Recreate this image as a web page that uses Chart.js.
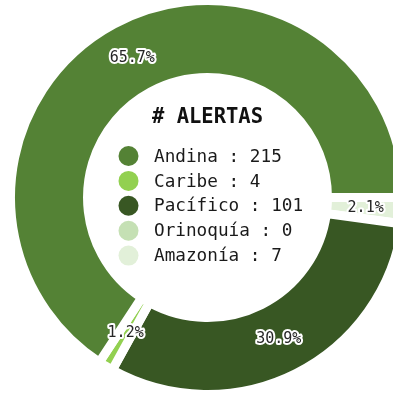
<!DOCTYPE html>
<html>
<head>
<meta charset="utf-8">
<script src="https://cdn.jsdelivr.net/npm/chart.js@4/dist/chart.umd.min.js"></script>
<style>
  html, body { margin: 0; padding: 0; background: #fff; overflow: hidden; width: 393px; height: 393px; }
  #wrap { position: absolute; left: 0; top: 0; width: 415px; height: 395px; }
</style>
</head>
<body>
<div id="wrap"><canvas id="c" width="415" height="395"></canvas></div>
<script>
// Alerts per natural region
const regions = ['Andina', 'Caribe', 'Pacífico', 'Orinoquía', 'Amazonía'];
const alerts = [215, 4, 101, 0, 7];
const regionColors = ['#548235', '#92D050', '#385723', '#C5E0B4', '#E2F0D9'];
const legendTitle = '# ALERTAS';

// Slices run counter-clockwise from 3 o'clock; Chart.js draws clockwise,
// so the series is fed in reverse order starting at 90° rotation.
const order = regions.map((_, i) => i).reverse();

const MONO = '"DejaVu Sans Mono", "Liberation Mono", monospace';

// Percentage labels on each non-empty slice, dark text with a white halo
const pctLabels = {
  id: 'pctLabels',
  afterDatasetsDraw(chart) {
    const ctx = chart.ctx;
    const meta = chart.getDatasetMeta(0);
    const vals = chart.data.datasets[0].data;
    const total = vals.reduce((a, b) => a + b, 0);
    ctx.save();
    ctx.font = '15px ' + MONO;
    ctx.textAlign = 'center';
    ctx.textBaseline = 'middle';
    ctx.lineJoin = 'round';
    meta.data.forEach((arc, i) => {
      if (!vals[i]) return;
      const p = arc.getCenterPoint();
      const txt = (vals[i] / total * 100).toFixed(1) + '%';
      ctx.lineWidth = 4;
      ctx.strokeStyle = '#ffffff';
      ctx.strokeText(txt, p.x, p.y);
      ctx.fillStyle = '#262626';
      ctx.fillText(txt, p.x, p.y);
    });
    ctx.restore();
  }
};

// Legend with title drawn in the hole of the doughnut
const centerLegend = {
  id: 'centerLegend',
  afterDraw(chart) {
    const ctx = chart.ctx;
    const arc = chart.getDatasetMeta(0).data[0];
    const cx = arc.x, cy = arc.y;
    ctx.save();
    ctx.textBaseline = 'middle';
    ctx.fillStyle = '#111';
    ctx.font = 'bold 20.5px ' + MONO;
    ctx.textAlign = 'center';
    ctx.fillText(legendTitle, cx, cy - 79.5);

    ctx.font = '17.7px ' + MONO;
    ctx.textAlign = 'left';
    const rowStep = 24.9;
    regions.forEach((name, i) => {
      const y = cy - 41.5 + i * rowStep;
      ctx.beginPath();
      ctx.arc(cx - 79, y, 10, 0, Math.PI * 2);
      ctx.fillStyle = regionColors[i];
      ctx.fill();
      ctx.fillStyle = '#1a1a1a';
      ctx.fillText(name + ' : ' + alerts[i], cx - 53.5, y + 1);
    });
    ctx.restore();
  }
};

new Chart(document.getElementById('c'), {
  type: 'doughnut',
  data: {
    labels: order.map(i => regions[i]),
    datasets: [{
      data: order.map(i => alerts[i]),
      backgroundColor: order.map(i => regionColors[i]),
      borderColor: '#ffffff',
      borderWidth: 9,
      hoverBorderWidth: 9,
      borderJoinStyle: 'miter'
    }]
  },
  options: {
    responsive: false,
    devicePixelRatio: 1,
    animation: false,
    events: [],
    rotation: 90,
    radius: 197,
    cutout: '60.9%',
    layout: { padding: 0 },
    plugins: {
      legend: { display: false },
      tooltip: { enabled: false },
      title: { display: false }
    }
  },
  plugins: [pctLabels, centerLegend]
});
</script>
</body>
</html>
